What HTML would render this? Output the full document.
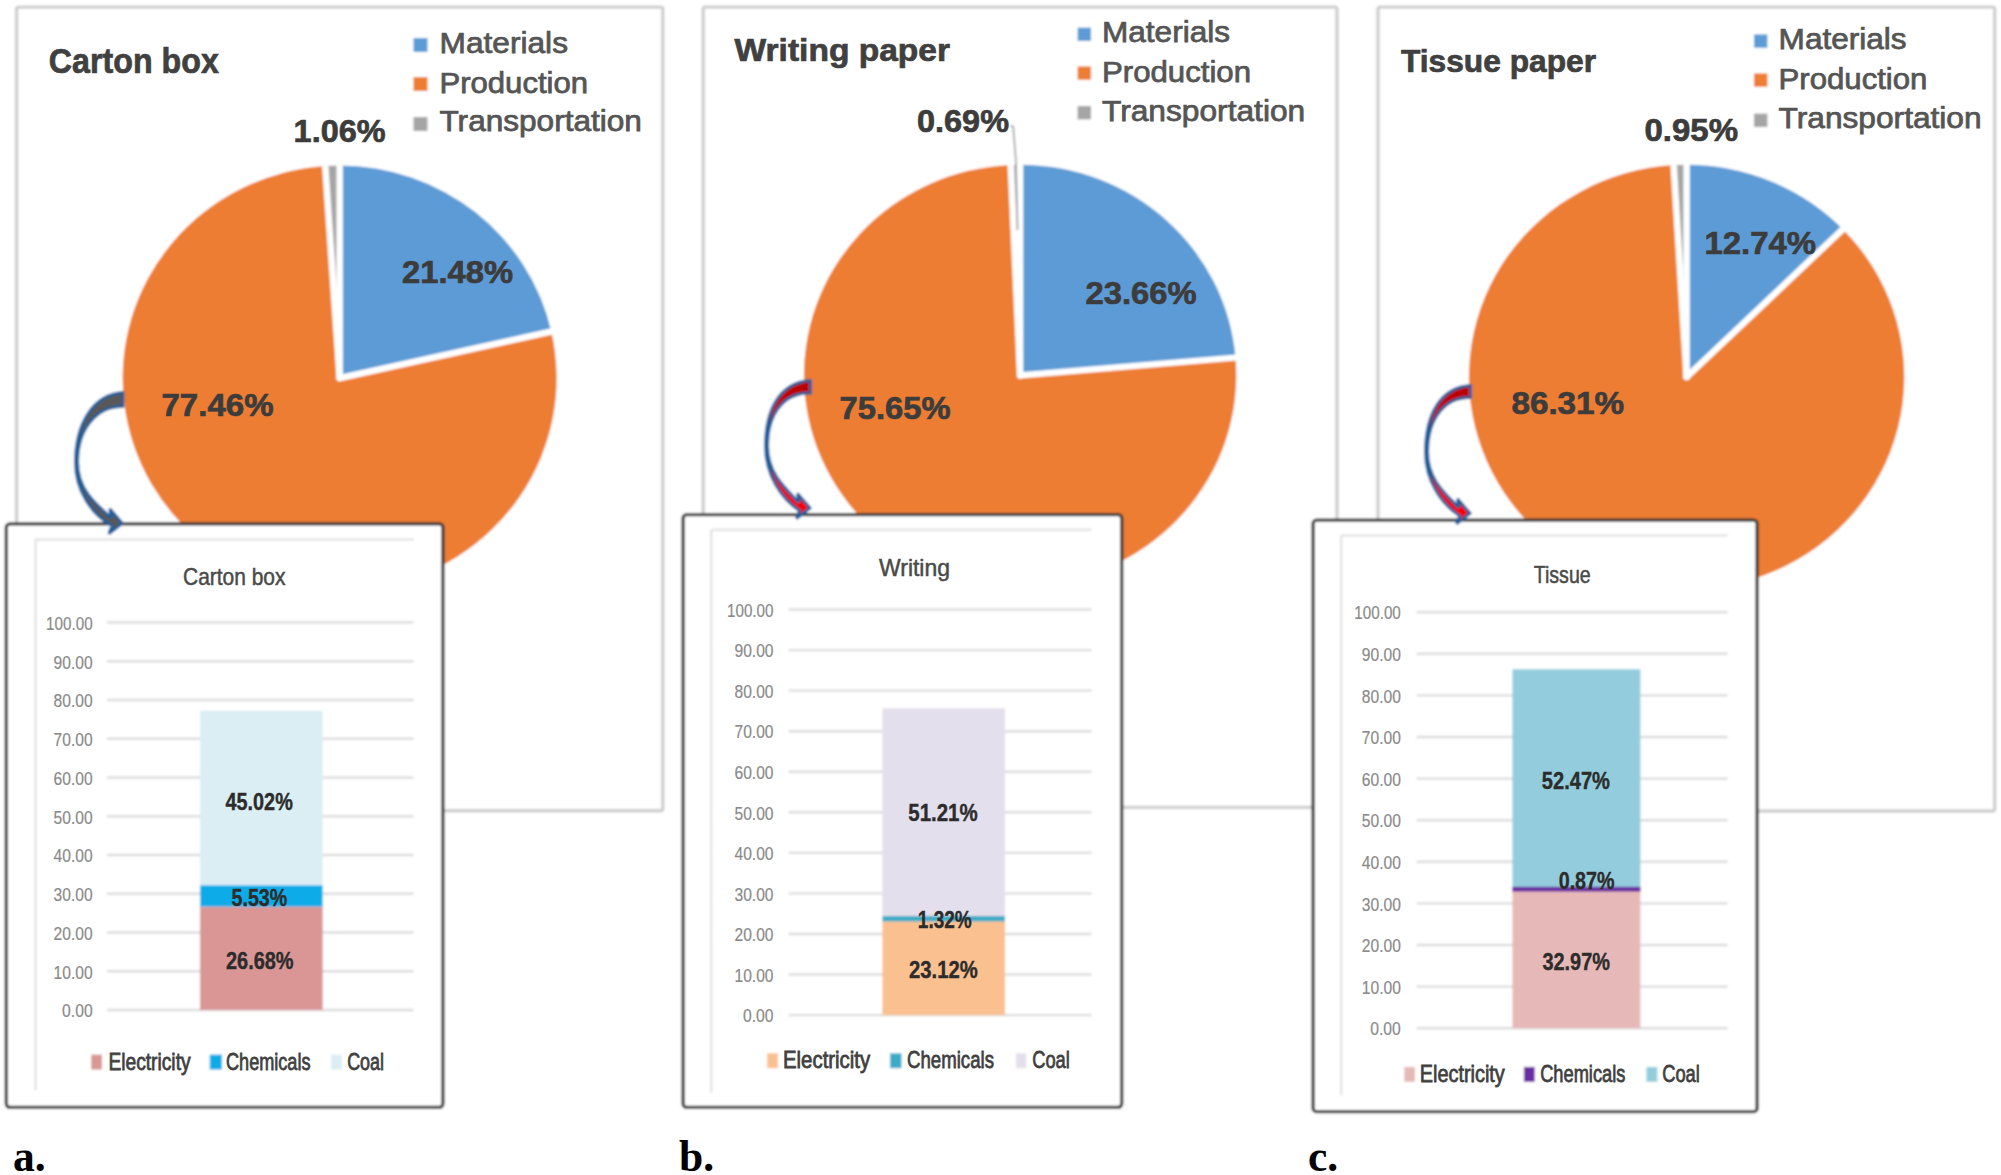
<!DOCTYPE html>
<html><head><meta charset="utf-8"><title>Figure</title>
<style>html,body{margin:0;padding:0;background:#fff}svg{display:block}</style></head>
<body>
<svg width="2001" height="1175" viewBox="0 0 2001 1175">
<defs><linearGradient id="rg" x1="0" y1="0" x2="0" y2="1"><stop offset="0" stop-color="#b80000"/><stop offset="1" stop-color="#ff0000"/></linearGradient><filter id="soft" x="0" y="0" width="2001" height="1175" filterUnits="userSpaceOnUse"><feGaussianBlur stdDeviation="0.8"/></filter></defs>
<rect width="2001" height="1175" fill="#fff"/>
<g filter="url(#soft)">
<rect width="2001" height="1175" fill="#fff"/>
<rect x="16.6" y="7.1" width="646.2" height="803.7" fill="#fff" stroke="#cfcfcf" stroke-width="3.4" rx="2"/>
<rect x="413.5" y="38.0" width="14.0" height="14.0" fill="#5b9bd5" stroke="none" stroke-width="0" />
<rect x="413.5" y="77.0" width="14.0" height="14.0" fill="#ed7d31" stroke="none" stroke-width="0" />
<rect x="413.5" y="117.0" width="14.0" height="14.0" fill="#a5a5a5" stroke="none" stroke-width="0" />
<g transform="translate(339.65,378.10) scale(1,0.9797)">
<path d="M0,0 L0.00,-217.00 A217.0,217.0 0 0 1 211.71,-47.60 Z" fill="#5b9bd5"/>
<path d="M0,0 L211.71,-47.60 A217.0,217.0 0 1 1 -14.44,-216.52 Z" fill="#ed7d31"/>
<path d="M0,0 L-14.44,-216.52 A217.0,217.0 0 0 1 -0.00,-217.00 Z" fill="#a5a5a5"/>
<line x1="0" y1="0" x2="0.00" y2="-221.00" stroke="#fff" stroke-width="6.4" stroke-linecap="round"/>
<line x1="0" y1="0" x2="215.62" y2="-48.48" stroke="#fff" stroke-width="6.4" stroke-linecap="round"/>
<line x1="0" y1="0" x2="-14.71" y2="-220.51" stroke="#fff" stroke-width="6.4" stroke-linecap="round"/>
</g>
<rect x="703.2" y="7.1" width="633.8" height="800.3" fill="#fff" stroke="#cfcfcf" stroke-width="3.4" rx="2"/>
<rect x="1077.6" y="27.6" width="13.4" height="13.4" fill="#5b9bd5" stroke="none" stroke-width="0" />
<rect x="1077.6" y="66.4" width="13.4" height="13.4" fill="#ed7d31" stroke="none" stroke-width="0" />
<rect x="1077.6" y="106.0" width="13.4" height="13.4" fill="#a5a5a5" stroke="none" stroke-width="0" />
<g transform="translate(1020.10,375.30) scale(1,0.9741)">
<path d="M0,0 L0.00,-216.20 A216.2,216.2 0 0 1 215.43,-18.18 Z" fill="#5b9bd5"/>
<path d="M0,0 L215.43,-18.18 A216.2,216.2 0 1 1 -9.37,-216.00 Z" fill="#ed7d31"/>
<path d="M0,0 L-9.37,-216.00 A216.2,216.2 0 0 1 -0.00,-216.20 Z" fill="#a5a5a5"/>
<line x1="0" y1="0" x2="0.00" y2="-220.20" stroke="#fff" stroke-width="6.4" stroke-linecap="round"/>
<line x1="0" y1="0" x2="219.42" y2="-18.52" stroke="#fff" stroke-width="6.4" stroke-linecap="round"/>
<line x1="0" y1="0" x2="-9.54" y2="-219.99" stroke="#fff" stroke-width="6.4" stroke-linecap="round"/>
</g>
<path d="M1010.5,126 L1013.2,126.6 L1016,162 L1017.5,230" fill="none" stroke="#a6a6a6" stroke-width="1.8"/>
<rect x="1378.0" y="7.1" width="616.7" height="803.9" fill="#fff" stroke="#cfcfcf" stroke-width="3.4" rx="2"/>
<rect x="1754.0" y="34.4" width="13.4" height="13.4" fill="#5b9bd5" stroke="none" stroke-width="0" />
<rect x="1754.0" y="73.4" width="13.4" height="13.4" fill="#ed7d31" stroke="none" stroke-width="0" />
<rect x="1754.0" y="113.6" width="13.4" height="13.4" fill="#a5a5a5" stroke="none" stroke-width="0" />
<g transform="translate(1686.60,377.00) scale(1,0.9752)">
<path d="M0,0 L0.00,-217.70 A217.7,217.7 0 0 1 156.24,-151.60 Z" fill="#5b9bd5"/>
<path d="M0,0 L156.24,-151.60 A217.7,217.7 0 1 1 -12.99,-217.31 Z" fill="#ed7d31"/>
<path d="M0,0 L-12.99,-217.31 A217.7,217.7 0 0 1 0.00,-217.70 Z" fill="#a5a5a5"/>
<line x1="0" y1="0" x2="0.00" y2="-221.70" stroke="#fff" stroke-width="6.4" stroke-linecap="round"/>
<line x1="0" y1="0" x2="159.11" y2="-154.38" stroke="#fff" stroke-width="6.4" stroke-linecap="round"/>
<line x1="0" y1="0" x2="-13.23" y2="-221.31" stroke="#fff" stroke-width="6.4" stroke-linecap="round"/>
</g>
<rect x="6.3" y="523.8" width="436.6" height="583.5" fill="#fff" stroke="#383838" stroke-width="3.3" rx="3.5"/>
<line x1="35.5" y1="539.4" x2="414.0" y2="539.4" stroke="#dedede" stroke-width="2"/>
<line x1="35.5" y1="539.4" x2="35.5" y2="1090.0" stroke="#dedede" stroke-width="2"/>
<line x1="107.0" y1="1010.0" x2="413.5" y2="1010.0" stroke="#dcdcdc" stroke-width="2.4"/>
<line x1="107.0" y1="971.2" x2="413.5" y2="971.2" stroke="#dcdcdc" stroke-width="2.4"/>
<line x1="107.0" y1="932.5" x2="413.5" y2="932.5" stroke="#dcdcdc" stroke-width="2.4"/>
<line x1="107.0" y1="893.8" x2="413.5" y2="893.8" stroke="#dcdcdc" stroke-width="2.4"/>
<line x1="107.0" y1="855.0" x2="413.5" y2="855.0" stroke="#dcdcdc" stroke-width="2.4"/>
<line x1="107.0" y1="816.2" x2="413.5" y2="816.2" stroke="#dcdcdc" stroke-width="2.4"/>
<line x1="107.0" y1="777.5" x2="413.5" y2="777.5" stroke="#dcdcdc" stroke-width="2.4"/>
<line x1="107.0" y1="738.8" x2="413.5" y2="738.8" stroke="#dcdcdc" stroke-width="2.4"/>
<line x1="107.0" y1="700.0" x2="413.5" y2="700.0" stroke="#dcdcdc" stroke-width="2.4"/>
<line x1="107.0" y1="661.2" x2="413.5" y2="661.2" stroke="#dcdcdc" stroke-width="2.4"/>
<line x1="107.0" y1="622.5" x2="413.5" y2="622.5" stroke="#dcdcdc" stroke-width="2.4"/>
<rect x="200.0" y="906.6" width="122.7" height="103.4" fill="#d99694" stroke="none" stroke-width="0" />
<rect x="200.0" y="885.2" width="122.7" height="21.4" fill="#10ace8" stroke="none" stroke-width="0" />
<rect x="200.0" y="710.7" width="122.7" height="174.5" fill="#dbeef4" stroke="none" stroke-width="0" />
<rect x="91.2" y="1054.6" width="10.8" height="15.0" fill="#d99694" stroke="none" stroke-width="0" />
<rect x="209.7" y="1054.6" width="12.3" height="15.0" fill="#10ace8" stroke="none" stroke-width="0" />
<rect x="331.0" y="1054.6" width="10.8" height="15.0" fill="#dbeef4" stroke="none" stroke-width="0" />
<rect x="683.1" y="514.7" width="438.6" height="592.6" fill="#fff" stroke="#383838" stroke-width="3.3" rx="3.5"/>
<line x1="711.2" y1="529.8" x2="1091.6" y2="529.8" stroke="#dedede" stroke-width="2"/>
<line x1="711.2" y1="529.8" x2="711.2" y2="1092.8" stroke="#dedede" stroke-width="2"/>
<line x1="788.5" y1="1015.1" x2="1091.6" y2="1015.1" stroke="#dcdcdc" stroke-width="2.4"/>
<line x1="788.5" y1="974.5" x2="1091.6" y2="974.5" stroke="#dcdcdc" stroke-width="2.4"/>
<line x1="788.5" y1="934.0" x2="1091.6" y2="934.0" stroke="#dcdcdc" stroke-width="2.4"/>
<line x1="788.5" y1="893.4" x2="1091.6" y2="893.4" stroke="#dcdcdc" stroke-width="2.4"/>
<line x1="788.5" y1="852.9" x2="1091.6" y2="852.9" stroke="#dcdcdc" stroke-width="2.4"/>
<line x1="788.5" y1="812.3" x2="1091.6" y2="812.3" stroke="#dcdcdc" stroke-width="2.4"/>
<line x1="788.5" y1="771.7" x2="1091.6" y2="771.7" stroke="#dcdcdc" stroke-width="2.4"/>
<line x1="788.5" y1="731.2" x2="1091.6" y2="731.2" stroke="#dcdcdc" stroke-width="2.4"/>
<line x1="788.5" y1="690.6" x2="1091.6" y2="690.6" stroke="#dcdcdc" stroke-width="2.4"/>
<line x1="788.5" y1="650.1" x2="1091.6" y2="650.1" stroke="#dcdcdc" stroke-width="2.4"/>
<line x1="788.5" y1="609.5" x2="1091.6" y2="609.5" stroke="#dcdcdc" stroke-width="2.4"/>
<rect x="882.4" y="921.3" width="122.6" height="93.8" fill="#fac090" stroke="none" stroke-width="0" />
<rect x="882.4" y="916.0" width="122.6" height="5.4" fill="#3aabc6" stroke="none" stroke-width="0" />
<rect x="882.4" y="708.3" width="122.6" height="207.7" fill="#e4dfec" stroke="none" stroke-width="0" />
<rect x="767.2" y="1053.3" width="10.8" height="14.9" fill="#fac090" stroke="none" stroke-width="0" />
<rect x="890.0" y="1053.3" width="11.5" height="14.9" fill="#3aabc6" stroke="none" stroke-width="0" />
<rect x="1015.9" y="1053.3" width="10.3" height="14.9" fill="#e4dfec" stroke="none" stroke-width="0" />
<rect x="1313.1" y="520.1" width="444.0" height="591.6" fill="#fff" stroke="#383838" stroke-width="3.3" rx="3.5"/>
<line x1="1341.2" y1="535.6" x2="1727.6" y2="535.6" stroke="#dedede" stroke-width="2"/>
<line x1="1341.2" y1="535.6" x2="1341.2" y2="1095.5" stroke="#dedede" stroke-width="2"/>
<line x1="1416.6" y1="1028.2" x2="1727.6" y2="1028.2" stroke="#dcdcdc" stroke-width="2.4"/>
<line x1="1416.6" y1="986.6" x2="1727.6" y2="986.6" stroke="#dcdcdc" stroke-width="2.4"/>
<line x1="1416.6" y1="945.0" x2="1727.6" y2="945.0" stroke="#dcdcdc" stroke-width="2.4"/>
<line x1="1416.6" y1="903.4" x2="1727.6" y2="903.4" stroke="#dcdcdc" stroke-width="2.4"/>
<line x1="1416.6" y1="861.8" x2="1727.6" y2="861.8" stroke="#dcdcdc" stroke-width="2.4"/>
<line x1="1416.6" y1="820.2" x2="1727.6" y2="820.2" stroke="#dcdcdc" stroke-width="2.4"/>
<line x1="1416.6" y1="778.6" x2="1727.6" y2="778.6" stroke="#dcdcdc" stroke-width="2.4"/>
<line x1="1416.6" y1="737.0" x2="1727.6" y2="737.0" stroke="#dcdcdc" stroke-width="2.4"/>
<line x1="1416.6" y1="695.4" x2="1727.6" y2="695.4" stroke="#dcdcdc" stroke-width="2.4"/>
<line x1="1416.6" y1="653.8" x2="1727.6" y2="653.8" stroke="#dcdcdc" stroke-width="2.4"/>
<line x1="1416.6" y1="612.2" x2="1727.6" y2="612.2" stroke="#dcdcdc" stroke-width="2.4"/>
<rect x="1512.4" y="891.0" width="128.0" height="137.2" fill="#e6b9b8" stroke="none" stroke-width="0" />
<rect x="1512.4" y="887.4" width="128.0" height="3.6" fill="#6a2da0" stroke="none" stroke-width="0" />
<rect x="1512.4" y="669.2" width="128.0" height="218.3" fill="#93cddd" stroke="none" stroke-width="0" />
<rect x="1512.4" y="886.8" width="128.0" height="4.8" fill="#6a2da0" stroke="none" stroke-width="0" />
<rect x="1404.3" y="1066.9" width="10.7" height="15.0" fill="#e6b9b8" stroke="none" stroke-width="0" />
<rect x="1523.9" y="1066.9" width="10.8" height="15.0" fill="#6a2da0" stroke="none" stroke-width="0" />
<rect x="1646.4" y="1066.9" width="10.9" height="15.0" fill="#93cddd" stroke="none" stroke-width="0" />
<path d="M122.8,392.5 C92.8,394.5 75.5,424 75.5,462 C75.5,492 92,514.3 111.8,525.8 L108.8,533.8 L122.3,523.3 L109.8,508.79999999999995 L111.3,517.8 C96,504.29999999999995 77.6,490 77.6,462 C77.6,430 95.8,406.0 122.8,406.5 Z" fill="#595959" stroke="#1f5f9c" stroke-width="3" stroke-linejoin="miter" stroke-miterlimit="2.5"/>
<path d="M810.5,380.5 C780.5,382.5 765.5,408 765.5,446 C765.5,476 782,499 799.5,510.5 L796.5,518.5 L810.0,508 L797.5,493.5 L799.0,502.5 C786,489 767.6,474 767.6,446 C767.6,414 783.5,392.5 810.5,393 Z" fill="url(#rg)" stroke="#1f5f9c" stroke-width="3" stroke-linejoin="miter" stroke-miterlimit="2.5"/>
<path d="M1470.5,385.5 C1440.5,387.5 1425.5,414 1425.5,452 C1425.5,482 1442,504.29999999999995 1459.5,515.8 L1456.5,523.8 L1470.0,513.3 L1457.5,498.79999999999995 L1459.0,507.79999999999995 C1446,494.29999999999995 1427.6,480 1427.6,452 C1427.6,420 1443.5,397.0 1470.5,397.5 Z" fill="url(#rg)" stroke="#1f5f9c" stroke-width="3" stroke-linejoin="miter" stroke-miterlimit="2.5"/>
</g>
<g>
<text x="48.8" y="73.0" font-family='"Liberation Sans", sans-serif' font-size="34.5" font-weight="bold" fill="#404040" stroke="#404040" stroke-width="0.7" text-anchor="start" textLength="170.0" lengthAdjust="spacingAndGlyphs">Carton box</text>
<text x="439.5" y="52.6" font-family='"Liberation Sans", sans-serif' font-size="28.8" font-weight="normal" fill="#555555" stroke="#555555" stroke-width="0.75" text-anchor="start" textLength="128.5" lengthAdjust="spacingAndGlyphs">Materials</text>
<text x="439.5" y="93.0" font-family='"Liberation Sans", sans-serif' font-size="28.8" font-weight="normal" fill="#555555" stroke="#555555" stroke-width="0.75" text-anchor="start" textLength="148.5" lengthAdjust="spacingAndGlyphs">Production</text>
<text x="439.5" y="131.4" font-family='"Liberation Sans", sans-serif' font-size="28.8" font-weight="normal" fill="#555555" stroke="#555555" stroke-width="0.75" text-anchor="start" textLength="202.4" lengthAdjust="spacingAndGlyphs">Transportation</text>
<text x="293.6" y="142.4" font-family='"Liberation Sans", sans-serif' font-size="32" font-weight="bold" fill="#3c3c3c" stroke="#3c3c3c" stroke-width="0.7" text-anchor="start" textLength="92.0" lengthAdjust="spacingAndGlyphs">1.06%</text>
<text x="402.0" y="283.0" font-family='"Liberation Sans", sans-serif' font-size="32" font-weight="bold" fill="#3c3c3c" stroke="#3c3c3c" stroke-width="0.7" text-anchor="start" textLength="111.0" lengthAdjust="spacingAndGlyphs">21.48%</text>
<text x="161.5" y="416.0" font-family='"Liberation Sans", sans-serif' font-size="32" font-weight="bold" fill="#3c3c3c" stroke="#3c3c3c" stroke-width="0.7" text-anchor="start" textLength="112.0" lengthAdjust="spacingAndGlyphs">77.46%</text>
<text x="734.5" y="61.2" font-family='"Liberation Sans", sans-serif' font-size="31.8" font-weight="bold" fill="#404040" stroke="#404040" stroke-width="0.7" text-anchor="start" textLength="215.5" lengthAdjust="spacingAndGlyphs">Writing paper</text>
<text x="1102.0" y="41.6" font-family='"Liberation Sans", sans-serif' font-size="28.8" font-weight="normal" fill="#555555" stroke="#555555" stroke-width="0.75" text-anchor="start" textLength="128.0" lengthAdjust="spacingAndGlyphs">Materials</text>
<text x="1102.0" y="82.0" font-family='"Liberation Sans", sans-serif' font-size="28.8" font-weight="normal" fill="#555555" stroke="#555555" stroke-width="0.75" text-anchor="start" textLength="149.0" lengthAdjust="spacingAndGlyphs">Production</text>
<text x="1102.0" y="120.6" font-family='"Liberation Sans", sans-serif' font-size="28.8" font-weight="normal" fill="#555555" stroke="#555555" stroke-width="0.75" text-anchor="start" textLength="203.2" lengthAdjust="spacingAndGlyphs">Transportation</text>
<text x="917.0" y="132.0" font-family='"Liberation Sans", sans-serif' font-size="32" font-weight="bold" fill="#3c3c3c" stroke="#3c3c3c" stroke-width="0.7" text-anchor="start" textLength="92.0" lengthAdjust="spacingAndGlyphs">0.69%</text>
<text x="1085.5" y="303.6" font-family='"Liberation Sans", sans-serif' font-size="32" font-weight="bold" fill="#3c3c3c" stroke="#3c3c3c" stroke-width="0.7" text-anchor="start" textLength="111.0" lengthAdjust="spacingAndGlyphs">23.66%</text>
<text x="839.5" y="419.4" font-family='"Liberation Sans", sans-serif' font-size="32" font-weight="bold" fill="#3c3c3c" stroke="#3c3c3c" stroke-width="0.7" text-anchor="start" textLength="111.0" lengthAdjust="spacingAndGlyphs">75.65%</text>
<text x="1401.0" y="72.4" font-family='"Liberation Sans", sans-serif' font-size="31.5" font-weight="bold" fill="#404040" stroke="#404040" stroke-width="0.7" text-anchor="start" textLength="195.0" lengthAdjust="spacingAndGlyphs">Tissue paper</text>
<text x="1778.6" y="48.6" font-family='"Liberation Sans", sans-serif' font-size="28.8" font-weight="normal" fill="#555555" stroke="#555555" stroke-width="0.75" text-anchor="start" textLength="128.0" lengthAdjust="spacingAndGlyphs">Materials</text>
<text x="1778.6" y="89.0" font-family='"Liberation Sans", sans-serif' font-size="28.8" font-weight="normal" fill="#555555" stroke="#555555" stroke-width="0.75" text-anchor="start" textLength="148.8" lengthAdjust="spacingAndGlyphs">Production</text>
<text x="1778.6" y="128.0" font-family='"Liberation Sans", sans-serif' font-size="28.8" font-weight="normal" fill="#555555" stroke="#555555" stroke-width="0.75" text-anchor="start" textLength="203.0" lengthAdjust="spacingAndGlyphs">Transportation</text>
<text x="1644.4" y="141.2" font-family='"Liberation Sans", sans-serif' font-size="32" font-weight="bold" fill="#3c3c3c" stroke="#3c3c3c" stroke-width="0.7" text-anchor="start" textLength="93.6" lengthAdjust="spacingAndGlyphs">0.95%</text>
<text x="1704.4" y="254.0" font-family='"Liberation Sans", sans-serif' font-size="32" font-weight="bold" fill="#3c3c3c" stroke="#3c3c3c" stroke-width="0.7" text-anchor="start" textLength="111.6" lengthAdjust="spacingAndGlyphs">12.74%</text>
<text x="1511.4" y="413.5" font-family='"Liberation Sans", sans-serif' font-size="32" font-weight="bold" fill="#3c3c3c" stroke="#3c3c3c" stroke-width="0.7" text-anchor="start" textLength="112.8" lengthAdjust="spacingAndGlyphs">86.31%</text>
<text x="62.1" y="1017.2" font-family='"Liberation Sans", sans-serif' font-size="19" font-weight="normal" fill="#8a8a8a" stroke="#8a8a8a" stroke-width="0.2" text-anchor="start" textLength="30.5" lengthAdjust="spacingAndGlyphs">0.00</text>
<text x="53.6" y="978.5" font-family='"Liberation Sans", sans-serif' font-size="19" font-weight="normal" fill="#8a8a8a" stroke="#8a8a8a" stroke-width="0.2" text-anchor="start" textLength="39.0" lengthAdjust="spacingAndGlyphs">10.00</text>
<text x="53.6" y="939.7" font-family='"Liberation Sans", sans-serif' font-size="19" font-weight="normal" fill="#8a8a8a" stroke="#8a8a8a" stroke-width="0.2" text-anchor="start" textLength="39.0" lengthAdjust="spacingAndGlyphs">20.00</text>
<text x="53.6" y="901.0" font-family='"Liberation Sans", sans-serif' font-size="19" font-weight="normal" fill="#8a8a8a" stroke="#8a8a8a" stroke-width="0.2" text-anchor="start" textLength="39.0" lengthAdjust="spacingAndGlyphs">30.00</text>
<text x="53.6" y="862.2" font-family='"Liberation Sans", sans-serif' font-size="19" font-weight="normal" fill="#8a8a8a" stroke="#8a8a8a" stroke-width="0.2" text-anchor="start" textLength="39.0" lengthAdjust="spacingAndGlyphs">40.00</text>
<text x="53.6" y="823.5" font-family='"Liberation Sans", sans-serif' font-size="19" font-weight="normal" fill="#8a8a8a" stroke="#8a8a8a" stroke-width="0.2" text-anchor="start" textLength="39.0" lengthAdjust="spacingAndGlyphs">50.00</text>
<text x="53.6" y="784.7" font-family='"Liberation Sans", sans-serif' font-size="19" font-weight="normal" fill="#8a8a8a" stroke="#8a8a8a" stroke-width="0.2" text-anchor="start" textLength="39.0" lengthAdjust="spacingAndGlyphs">60.00</text>
<text x="53.6" y="746.0" font-family='"Liberation Sans", sans-serif' font-size="19" font-weight="normal" fill="#8a8a8a" stroke="#8a8a8a" stroke-width="0.2" text-anchor="start" textLength="39.0" lengthAdjust="spacingAndGlyphs">70.00</text>
<text x="53.6" y="707.2" font-family='"Liberation Sans", sans-serif' font-size="19" font-weight="normal" fill="#8a8a8a" stroke="#8a8a8a" stroke-width="0.2" text-anchor="start" textLength="39.0" lengthAdjust="spacingAndGlyphs">80.00</text>
<text x="53.6" y="668.5" font-family='"Liberation Sans", sans-serif' font-size="19" font-weight="normal" fill="#8a8a8a" stroke="#8a8a8a" stroke-width="0.2" text-anchor="start" textLength="39.0" lengthAdjust="spacingAndGlyphs">90.00</text>
<text x="46.1" y="629.7" font-family='"Liberation Sans", sans-serif' font-size="19" font-weight="normal" fill="#8a8a8a" stroke="#8a8a8a" stroke-width="0.2" text-anchor="start" textLength="46.5" lengthAdjust="spacingAndGlyphs">100.00</text>
<text x="183.0" y="585.0" font-family='"Liberation Sans", sans-serif' font-size="24" font-weight="normal" fill="#4a4a4a" stroke="#4a4a4a" stroke-width="0.5" text-anchor="start" textLength="102.5" lengthAdjust="spacingAndGlyphs">Carton box</text>
<text x="225.5" y="809.6" font-family='"Liberation Sans", sans-serif' font-size="24.5" font-weight="bold" fill="#2c2c2c" stroke="#2c2c2c" stroke-width="0.4" text-anchor="start" textLength="67.3" lengthAdjust="spacingAndGlyphs">45.02%</text>
<text x="231.5" y="906.0" font-family='"Liberation Sans", sans-serif' font-size="24.5" font-weight="bold" fill="#2c2c2c" stroke="#2c2c2c" stroke-width="0.4" text-anchor="start" textLength="55.8" lengthAdjust="spacingAndGlyphs">5.53%</text>
<text x="226.0" y="968.8" font-family='"Liberation Sans", sans-serif' font-size="24.5" font-weight="bold" fill="#2c2c2c" stroke="#2c2c2c" stroke-width="0.4" text-anchor="start" textLength="67.6" lengthAdjust="spacingAndGlyphs">26.68%</text>
<text x="108.4" y="1069.6" font-family='"Liberation Sans", sans-serif' font-size="24.5" font-weight="normal" fill="#404040" stroke="#404040" stroke-width="0.8" text-anchor="start" textLength="82.2" lengthAdjust="spacingAndGlyphs">Electricity</text>
<text x="226.0" y="1069.6" font-family='"Liberation Sans", sans-serif' font-size="24.5" font-weight="normal" fill="#404040" stroke="#404040" stroke-width="0.8" text-anchor="start" textLength="84.5" lengthAdjust="spacingAndGlyphs">Chemicals</text>
<text x="347.2" y="1069.6" font-family='"Liberation Sans", sans-serif' font-size="24.5" font-weight="normal" fill="#404040" stroke="#404040" stroke-width="0.8" text-anchor="start" textLength="36.8" lengthAdjust="spacingAndGlyphs">Coal</text>
<text x="743.0" y="1022.3" font-family='"Liberation Sans", sans-serif' font-size="19" font-weight="normal" fill="#8a8a8a" stroke="#8a8a8a" stroke-width="0.2" text-anchor="start" textLength="30.5" lengthAdjust="spacingAndGlyphs">0.00</text>
<text x="734.5" y="981.7" font-family='"Liberation Sans", sans-serif' font-size="19" font-weight="normal" fill="#8a8a8a" stroke="#8a8a8a" stroke-width="0.2" text-anchor="start" textLength="39.0" lengthAdjust="spacingAndGlyphs">10.00</text>
<text x="734.5" y="941.2" font-family='"Liberation Sans", sans-serif' font-size="19" font-weight="normal" fill="#8a8a8a" stroke="#8a8a8a" stroke-width="0.2" text-anchor="start" textLength="39.0" lengthAdjust="spacingAndGlyphs">20.00</text>
<text x="734.5" y="900.6" font-family='"Liberation Sans", sans-serif' font-size="19" font-weight="normal" fill="#8a8a8a" stroke="#8a8a8a" stroke-width="0.2" text-anchor="start" textLength="39.0" lengthAdjust="spacingAndGlyphs">30.00</text>
<text x="734.5" y="860.1" font-family='"Liberation Sans", sans-serif' font-size="19" font-weight="normal" fill="#8a8a8a" stroke="#8a8a8a" stroke-width="0.2" text-anchor="start" textLength="39.0" lengthAdjust="spacingAndGlyphs">40.00</text>
<text x="734.5" y="819.5" font-family='"Liberation Sans", sans-serif' font-size="19" font-weight="normal" fill="#8a8a8a" stroke="#8a8a8a" stroke-width="0.2" text-anchor="start" textLength="39.0" lengthAdjust="spacingAndGlyphs">50.00</text>
<text x="734.5" y="778.9" font-family='"Liberation Sans", sans-serif' font-size="19" font-weight="normal" fill="#8a8a8a" stroke="#8a8a8a" stroke-width="0.2" text-anchor="start" textLength="39.0" lengthAdjust="spacingAndGlyphs">60.00</text>
<text x="734.5" y="738.4" font-family='"Liberation Sans", sans-serif' font-size="19" font-weight="normal" fill="#8a8a8a" stroke="#8a8a8a" stroke-width="0.2" text-anchor="start" textLength="39.0" lengthAdjust="spacingAndGlyphs">70.00</text>
<text x="734.5" y="697.8" font-family='"Liberation Sans", sans-serif' font-size="19" font-weight="normal" fill="#8a8a8a" stroke="#8a8a8a" stroke-width="0.2" text-anchor="start" textLength="39.0" lengthAdjust="spacingAndGlyphs">80.00</text>
<text x="734.5" y="657.3" font-family='"Liberation Sans", sans-serif' font-size="19" font-weight="normal" fill="#8a8a8a" stroke="#8a8a8a" stroke-width="0.2" text-anchor="start" textLength="39.0" lengthAdjust="spacingAndGlyphs">90.00</text>
<text x="727.0" y="616.7" font-family='"Liberation Sans", sans-serif' font-size="19" font-weight="normal" fill="#8a8a8a" stroke="#8a8a8a" stroke-width="0.2" text-anchor="start" textLength="46.5" lengthAdjust="spacingAndGlyphs">100.00</text>
<text x="879.0" y="576.0" font-family='"Liberation Sans", sans-serif' font-size="24" font-weight="normal" fill="#4a4a4a" stroke="#4a4a4a" stroke-width="0.5" text-anchor="start" textLength="71.0" lengthAdjust="spacingAndGlyphs">Writing</text>
<text x="908.3" y="821.2" font-family='"Liberation Sans", sans-serif' font-size="24.5" font-weight="bold" fill="#2c2c2c" stroke="#2c2c2c" stroke-width="0.4" text-anchor="start" textLength="69.4" lengthAdjust="spacingAndGlyphs">51.21%</text>
<text x="917.8" y="928.0" font-family='"Liberation Sans", sans-serif' font-size="24.5" font-weight="bold" fill="#2c2c2c" stroke="#2c2c2c" stroke-width="0.4" text-anchor="start" textLength="54.0" lengthAdjust="spacingAndGlyphs">1.32%</text>
<text x="909.0" y="978.4" font-family='"Liberation Sans", sans-serif' font-size="24.5" font-weight="bold" fill="#2c2c2c" stroke="#2c2c2c" stroke-width="0.4" text-anchor="start" textLength="68.7" lengthAdjust="spacingAndGlyphs">23.12%</text>
<text x="783.0" y="1068.2" font-family='"Liberation Sans", sans-serif' font-size="24.5" font-weight="normal" fill="#404040" stroke="#404040" stroke-width="0.8" text-anchor="start" textLength="87.2" lengthAdjust="spacingAndGlyphs">Electricity</text>
<text x="907.0" y="1068.2" font-family='"Liberation Sans", sans-serif' font-size="24.5" font-weight="normal" fill="#404040" stroke="#404040" stroke-width="0.8" text-anchor="start" textLength="87.0" lengthAdjust="spacingAndGlyphs">Chemicals</text>
<text x="1032.2" y="1068.2" font-family='"Liberation Sans", sans-serif' font-size="24.5" font-weight="normal" fill="#404040" stroke="#404040" stroke-width="0.8" text-anchor="start" textLength="37.6" lengthAdjust="spacingAndGlyphs">Coal</text>
<text x="1370.3" y="1035.4" font-family='"Liberation Sans", sans-serif' font-size="19" font-weight="normal" fill="#8a8a8a" stroke="#8a8a8a" stroke-width="0.2" text-anchor="start" textLength="30.5" lengthAdjust="spacingAndGlyphs">0.00</text>
<text x="1361.8" y="993.8" font-family='"Liberation Sans", sans-serif' font-size="19" font-weight="normal" fill="#8a8a8a" stroke="#8a8a8a" stroke-width="0.2" text-anchor="start" textLength="39.0" lengthAdjust="spacingAndGlyphs">10.00</text>
<text x="1361.8" y="952.2" font-family='"Liberation Sans", sans-serif' font-size="19" font-weight="normal" fill="#8a8a8a" stroke="#8a8a8a" stroke-width="0.2" text-anchor="start" textLength="39.0" lengthAdjust="spacingAndGlyphs">20.00</text>
<text x="1361.8" y="910.6" font-family='"Liberation Sans", sans-serif' font-size="19" font-weight="normal" fill="#8a8a8a" stroke="#8a8a8a" stroke-width="0.2" text-anchor="start" textLength="39.0" lengthAdjust="spacingAndGlyphs">30.00</text>
<text x="1361.8" y="869.0" font-family='"Liberation Sans", sans-serif' font-size="19" font-weight="normal" fill="#8a8a8a" stroke="#8a8a8a" stroke-width="0.2" text-anchor="start" textLength="39.0" lengthAdjust="spacingAndGlyphs">40.00</text>
<text x="1361.8" y="827.4" font-family='"Liberation Sans", sans-serif' font-size="19" font-weight="normal" fill="#8a8a8a" stroke="#8a8a8a" stroke-width="0.2" text-anchor="start" textLength="39.0" lengthAdjust="spacingAndGlyphs">50.00</text>
<text x="1361.8" y="785.8" font-family='"Liberation Sans", sans-serif' font-size="19" font-weight="normal" fill="#8a8a8a" stroke="#8a8a8a" stroke-width="0.2" text-anchor="start" textLength="39.0" lengthAdjust="spacingAndGlyphs">60.00</text>
<text x="1361.8" y="744.2" font-family='"Liberation Sans", sans-serif' font-size="19" font-weight="normal" fill="#8a8a8a" stroke="#8a8a8a" stroke-width="0.2" text-anchor="start" textLength="39.0" lengthAdjust="spacingAndGlyphs">70.00</text>
<text x="1361.8" y="702.6" font-family='"Liberation Sans", sans-serif' font-size="19" font-weight="normal" fill="#8a8a8a" stroke="#8a8a8a" stroke-width="0.2" text-anchor="start" textLength="39.0" lengthAdjust="spacingAndGlyphs">80.00</text>
<text x="1361.8" y="661.0" font-family='"Liberation Sans", sans-serif' font-size="19" font-weight="normal" fill="#8a8a8a" stroke="#8a8a8a" stroke-width="0.2" text-anchor="start" textLength="39.0" lengthAdjust="spacingAndGlyphs">90.00</text>
<text x="1354.3" y="619.4" font-family='"Liberation Sans", sans-serif' font-size="19" font-weight="normal" fill="#8a8a8a" stroke="#8a8a8a" stroke-width="0.2" text-anchor="start" textLength="46.5" lengthAdjust="spacingAndGlyphs">100.00</text>
<text x="1533.7" y="583.0" font-family='"Liberation Sans", sans-serif' font-size="24" font-weight="normal" fill="#4a4a4a" stroke="#4a4a4a" stroke-width="0.5" text-anchor="start" textLength="57.0" lengthAdjust="spacingAndGlyphs">Tissue</text>
<text x="1541.8" y="788.7" font-family='"Liberation Sans", sans-serif' font-size="24.5" font-weight="bold" fill="#2c2c2c" stroke="#2c2c2c" stroke-width="0.4" text-anchor="start" textLength="68.2" lengthAdjust="spacingAndGlyphs">52.47%</text>
<text x="1558.7" y="888.5" font-family='"Liberation Sans", sans-serif' font-size="24.5" font-weight="bold" fill="#2c2c2c" stroke="#2c2c2c" stroke-width="0.4" text-anchor="start" textLength="55.8" lengthAdjust="spacingAndGlyphs">0.87%</text>
<text x="1542.4" y="970.2" font-family='"Liberation Sans", sans-serif' font-size="24.5" font-weight="bold" fill="#2c2c2c" stroke="#2c2c2c" stroke-width="0.4" text-anchor="start" textLength="67.6" lengthAdjust="spacingAndGlyphs">32.97%</text>
<text x="1419.8" y="1081.9" font-family='"Liberation Sans", sans-serif' font-size="24.5" font-weight="normal" fill="#404040" stroke="#404040" stroke-width="0.8" text-anchor="start" textLength="85.0" lengthAdjust="spacingAndGlyphs">Electricity</text>
<text x="1540.2" y="1081.9" font-family='"Liberation Sans", sans-serif' font-size="24.5" font-weight="normal" fill="#404040" stroke="#404040" stroke-width="0.8" text-anchor="start" textLength="85.2" lengthAdjust="spacingAndGlyphs">Chemicals</text>
<text x="1662.2" y="1081.9" font-family='"Liberation Sans", sans-serif' font-size="24.5" font-weight="normal" fill="#404040" stroke="#404040" stroke-width="0.8" text-anchor="start" textLength="37.6" lengthAdjust="spacingAndGlyphs">Coal</text>
<text x="13" y="1170.6" font-family='"Liberation Serif", serif' font-size="43.5" font-weight="bold" fill="#000">a.</text>
<text x="679" y="1170.6" font-family='"Liberation Serif", serif' font-size="43.5" font-weight="bold" fill="#000">b.</text>
<text x="1308" y="1170.6" font-family='"Liberation Serif", serif' font-size="43.5" font-weight="bold" fill="#000">c.</text>
</g>
</svg>
</body></html>
